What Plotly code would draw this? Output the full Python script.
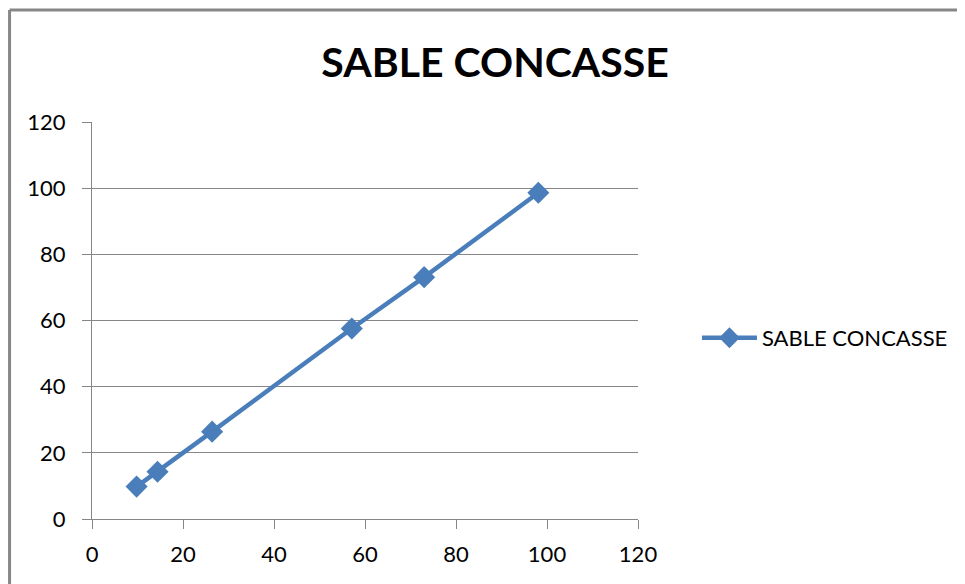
"""
Sable concassé curve, Excel-style line chart
"""
import plotly.graph_objects as go

# data
x_vals = [9.8, 14.4, 26.4, 57.1, 73.0, 98.1]
y_vals = [9.8, 14.3, 26.4, 57.6, 73.1, 98.6]
series_name = 'SABLE CONCASSE'
chart_title = 'SABLE CONCASSE'
tick_vals = [0, 20, 40, 60, 80, 100, 120]

blue = '#4A7EBB'
grid = '#868686'
frame = '#878787'
font_family = 'Lato, Liberation Sans, Arial, sans-serif'

fig = go.Figure()
fig.add_trace(go.Scatter(
    x=x_vals,
    y=y_vals,
    name=series_name,
    mode='lines+markers',
    line=dict(color=blue, width=4.5),
    marker=dict(symbol='diamond', size=17, color=blue),
    showlegend=True,
))

axis_font = dict(family=font_family, size=22, color='#000000')

fig.update_xaxes(
    range=[0, 120], tickvals=tick_vals, showgrid=False, zeroline=False,
    showline=True, linecolor=grid, linewidth=1,
    ticks='outside', ticklen=9, tickcolor=grid,
    tickfont=axis_font, ticklabelstandoff=7, fixedrange=True,
)
fig.update_yaxes(
    range=[0, 120], tickvals=tick_vals, showgrid=True, gridcolor=grid, gridwidth=1,
    zeroline=False, showline=True, linecolor=grid, linewidth=1,
    ticks='outside', ticklen=9, tickcolor=grid,
    tickfont=axis_font, ticklabelstandoff=12, fixedrange=True,
)

# outer chart frame: only top and left edges are visible in the crop
fig.add_shape(type='line', xref='paper', yref='paper',
              x0=-0.151, x1=1.75, y0=1.282, y1=1.282,
              line=dict(color=frame, width=3), layer='below')
fig.add_shape(type='line', xref='paper', yref='paper',
              x0=-0.151, x1=-0.151, y0=-0.4, y1=1.282,
              line=dict(color=frame, width=3), layer='below')

# page body has an 8px margin, so the figure is 8px smaller
fig.update_layout(
    width=957,
    height=576,
    margin=dict(l=84, r=327, t=114, b=65),
    plot_bgcolor='white',
    paper_bgcolor='white',
    title=dict(
        text='<b>' + chart_title + '</b>',
        x=0.509, xanchor='center', y=0.905, yanchor='middle',
        font=dict(family=font_family, size=41, color='#000000'),
    ),
    legend=dict(
        x=1.108, xanchor='left', y=0.456, yanchor='middle',
        font=dict(family=font_family, size=22, color='#000000'),
        itemwidth=55, bgcolor='rgba(0,0,0,0)',
    ),
)

fig.write_html("out.html")
